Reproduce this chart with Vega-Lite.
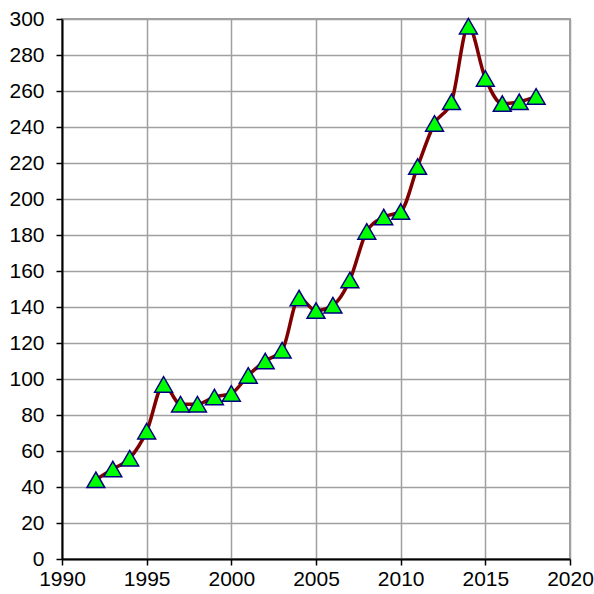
{
  "$schema": "https://vega.github.io/schema/vega-lite/v6.json",
  "autosize": "none",
  "width": 508,
  "height": 540,
  "padding": {"left": 62, "top": 19, "right": 24, "bottom": 35},
  "background": "white",
  "config": {
    "view": {"stroke": "#a0a0a0", "strokeWidth": 2}
  },
  "data": {
    "values": [
      {"year": 1992, "value": 44},
      {"year": 1993, "value": 50},
      {"year": 1994, "value": 56},
      {"year": 1995, "value": 71},
      {"year": 1996, "value": 97},
      {"year": 1997, "value": 86},
      {"year": 1998, "value": 86},
      {"year": 1999, "value": 90},
      {"year": 2000, "value": 92},
      {"year": 2001, "value": 102},
      {"year": 2002, "value": 110},
      {"year": 2003, "value": 116},
      {"year": 2004, "value": 145},
      {"year": 2005, "value": 138},
      {"year": 2006, "value": 141},
      {"year": 2007, "value": 155},
      {"year": 2008, "value": 182},
      {"year": 2009, "value": 190},
      {"year": 2010, "value": 193},
      {"year": 2011, "value": 218},
      {"year": 2012, "value": 242},
      {"year": 2013, "value": 254},
      {"year": 2014, "value": 296},
      {"year": 2015, "value": 267},
      {"year": 2016, "value": 253},
      {"year": 2017, "value": 254},
      {"year": 2018, "value": 257}
    ]
  },
  "encoding": {
    "x": {
      "field": "year",
      "type": "quantitative",
      "scale": {"domain": [1990, 2020], "nice": false, "zero": false},
      "axis": {
        "values": [1990, 1995, 2000, 2005, 2010, 2015, 2020],
        "format": "d",
        "title": null,
        "labelFont": "Arial",
        "labelFontSize": 21,
        "labelFlush": false,
        "labelOverlap": false,
        "labelColor": "black",
        "labelPadding": 3,
        "domainColor": "black",
        "domainWidth": 2,
        "tickColor": "black",
        "tickWidth": 1.5,
        "tickSize": 6,
        "gridColor": "#a0a0a0",
        "gridWidth": 1.5,
        "gridOpacity": 1
      }
    },
    "y": {
      "field": "value",
      "type": "quantitative",
      "scale": {"domain": [0, 300], "nice": false},
      "axis": {
        "values": [0, 20, 40, 60, 80, 100, 120, 140, 160, 180, 200, 220, 240, 260, 280, 300],
        "title": null,
        "labelFont": "Arial",
        "labelFontSize": 21,
        "labelFlush": false,
        "labelOverlap": false,
        "labelColor": "black",
        "labelPadding": 12,
        "domainColor": "black",
        "domainWidth": 2,
        "tickColor": "black",
        "tickWidth": 1.5,
        "tickSize": 6,
        "gridColor": "#a0a0a0",
        "gridWidth": 1.5,
        "gridOpacity": 1
      }
    }
  },
  "layer": [
    {
      "mark": {"type": "line", "color": "#800000", "strokeWidth": 3.5, "interpolate": "monotone"}
    },
    {
      "mark": {"type": "point", "shape": "triangle-up", "size": 320, "filled": true, "fill": "#00ff00", "stroke": "#000080", "strokeWidth": 1.5, "opacity": 1}
    }
  ]
}
